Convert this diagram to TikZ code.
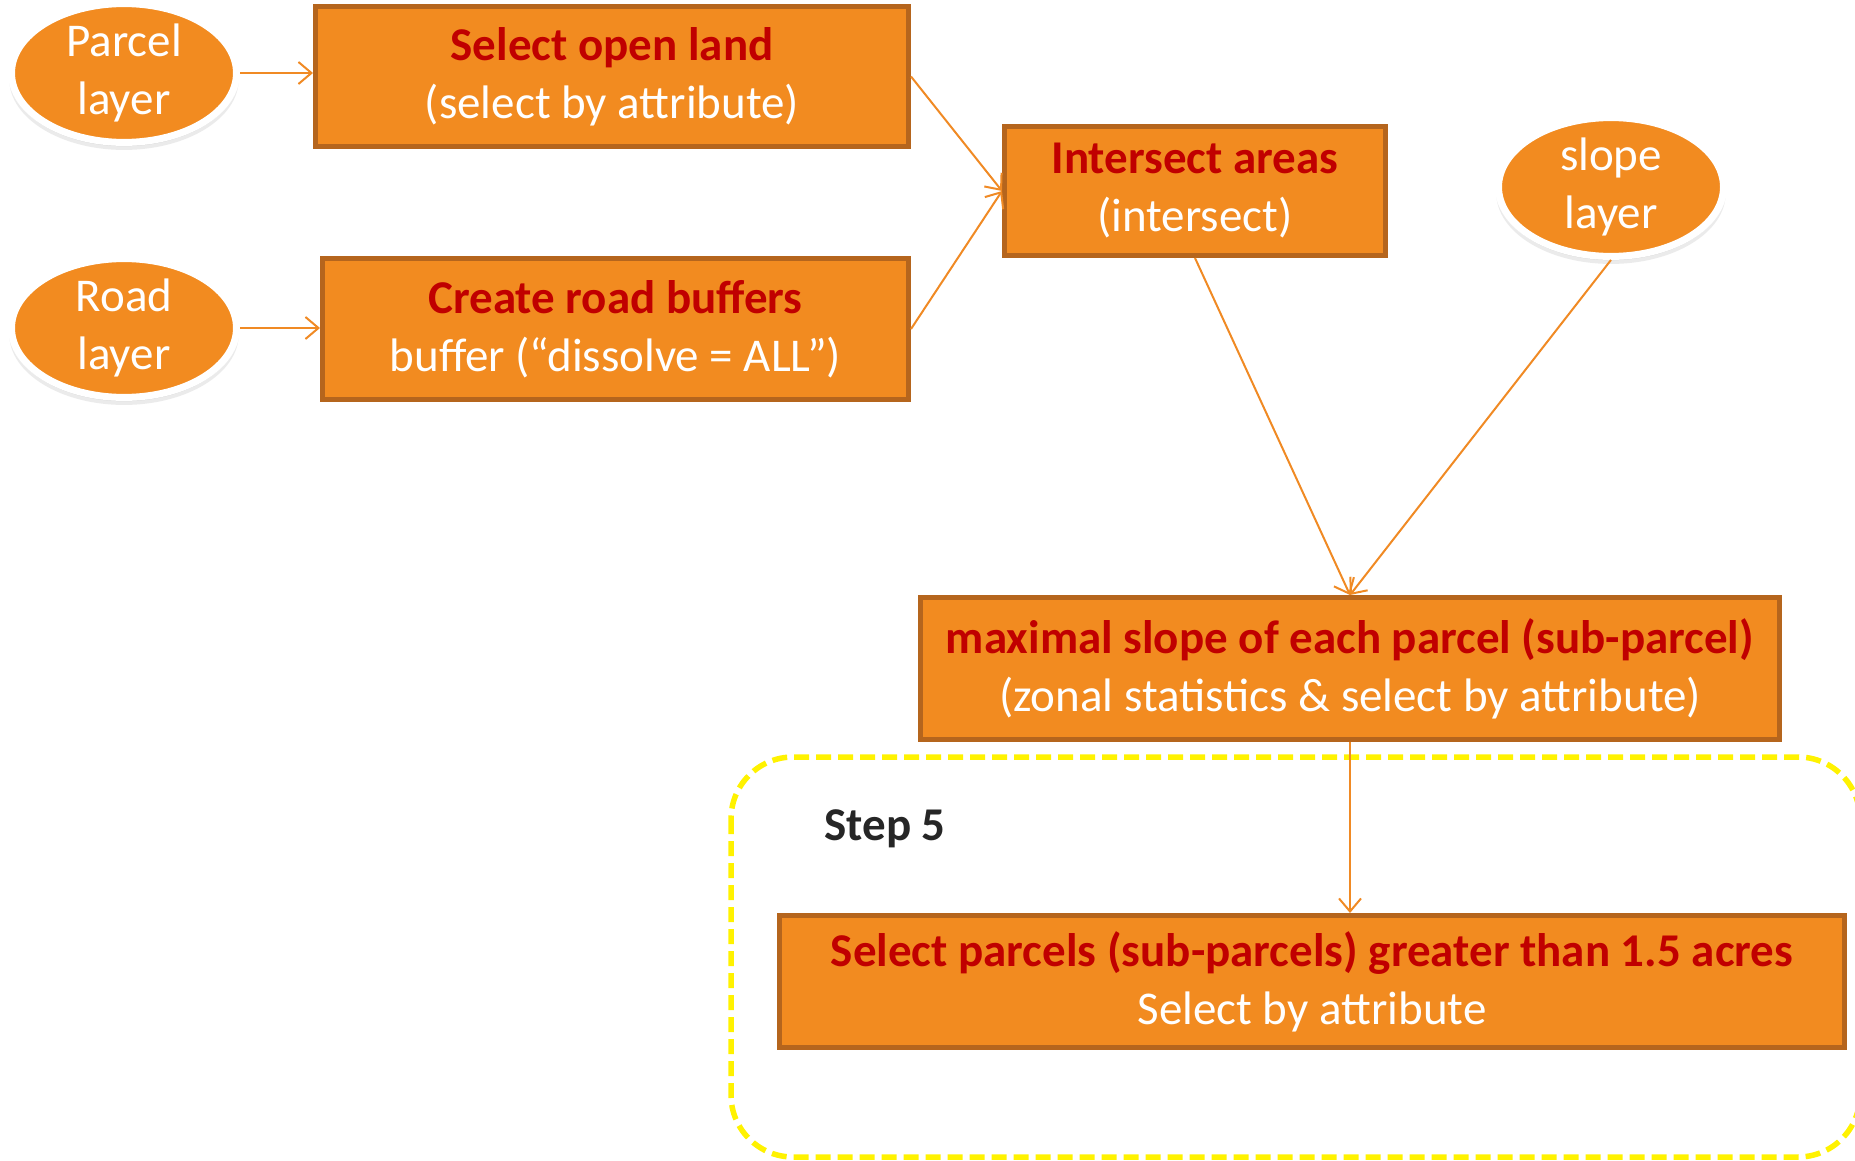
\documentclass[tikz,border=0pt]{standalone}
\usepackage{fontspec}
\setmainfont{Carlito}
\usetikzlibrary{shapes.geometric,arrows.meta,shadows}
\definecolor{boxfill}{HTML}{F28B20}
\definecolor{boxline}{HTML}{B5651D}
\definecolor{titlered}{HTML}{C00000}
\definecolor{flow}{HTML}{F08A24}
\definecolor{steptext}{HTML}{262626}
\begin{document}
\begin{tikzpicture}[x=1pt,y=-1pt,
  every node/.style={font=\fontsize{47}{58}\selectfont},
  procbox/.style={rectangle, fill=boxfill, draw=boxline, line width=5pt,
    align=center, inner sep=0pt, text=white},
  layer/.style={ellipse, fill=boxfill, draw=white, line width=7pt,
    inner sep=0pt, align=center, text=white,
    minimum width=225pt, minimum height=137pt,
    drop shadow={shadow xshift=0pt, shadow yshift=-6pt, shadow scale=1.02, opacity=0.08, fill=black},
    drop shadow={shadow xshift=0pt, shadow yshift=-3pt, shadow scale=1.01, opacity=0.12, fill=black}},
  flowarrow/.style={draw=flow, line width=2pt,
    -{Straight Barb[length=13pt,width=22pt,line width=2pt]}},
  steplabel/.style={anchor=west, text=steptext, font=\fontsize{47}{56}\selectfont\bfseries}
]
\useasboundingbox (0,0) rectangle (1855,1161);

% step frame (runs past the right edge of the page)
\begin{scope}
\clip (0,0) rectangle (1855,1161);
\draw[draw=yellow, line width=5.5pt, dash pattern=on 15pt off 7pt, rounded corners=62pt]
  (731,757) rectangle (1860,1157);
\end{scope}
\node[steplabel] (stepname) at (821,829) {Step 5};

% input layers
\node[layer] (parcel) at (124,73) {Parcel\\layer};
\node[layer] (road) at (124,328) {Road\\layer};
\node[layer] (slope) at (1611,187) {slope\\layer};

% processing steps
\node[procbox, minimum width=593pt, minimum height=140pt] (openland) at (612,76.5)
  {{\bfseries\color{titlered}Select open land}\\(select by attribute)};
\node[procbox, minimum width=586pt, minimum height=141pt] (buffers) at (615.5,329)
  {{\bfseries\color{titlered}Create road buffers}\\buffer (“dissolve = ALL”)};
\node[procbox, minimum width=381pt, minimum height=129pt] (intersect) at (1195,191)
  {{\bfseries\color{titlered}Intersect areas}\\(intersect)};
\node[procbox, minimum width=859pt, minimum height=142pt] (maxslope) at (1350,668.5)
  {{\bfseries\color{titlered}maximal slope of each parcel (sub-parcel)}\\(zonal statistics \& select by attribute)};
\node[procbox, minimum width=1065pt, minimum height=132pt] (selectparcels) at (1312,981.5)
  {{\bfseries\color{titlered}Select parcels (sub-parcels) greater than 1.5 acres}\\Select by attribute};

% connectors
\draw[flowarrow] (parcel.east) -- (openland.west |- parcel.east);
\draw[flowarrow] (road.east) -- (buffers.west |- road.east);
\draw[flowarrow] (openland.east) -- (intersect.west);
\draw[flowarrow] (buffers.east) -- (intersect.west);
\draw[flowarrow] (intersect.south) -- (maxslope.north);
\draw[flowarrow] (slope.south) -- (maxslope.north);
\draw[flowarrow] (maxslope.south) -- (maxslope.south |- selectparcels.north);
\end{tikzpicture}
\end{document}
